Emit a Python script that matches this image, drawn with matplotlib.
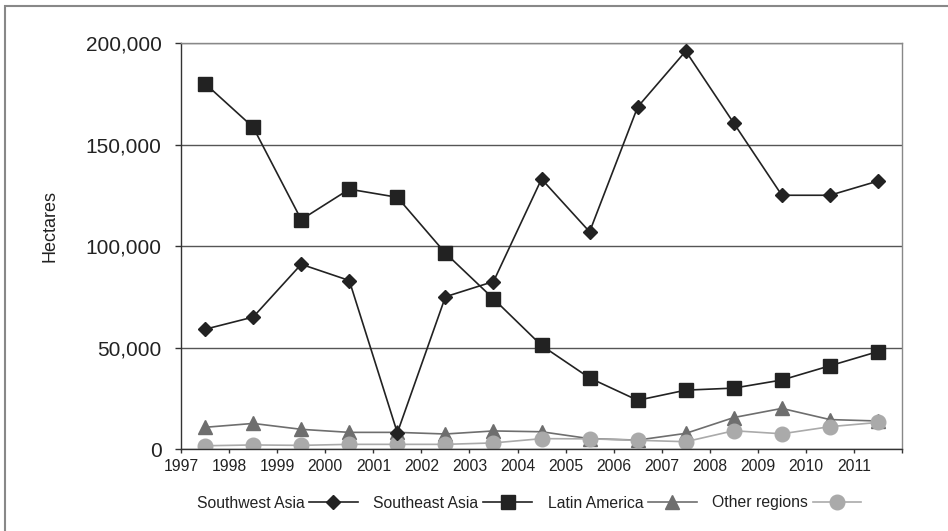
import matplotlib
matplotlib.use("Agg")
import matplotlib.pyplot as plt
from matplotlib.patches import Rectangle
from matplotlib.ticker import FuncFormatter

plt.rcParams['font.family'] = ['Liberation Sans', 'DejaVu Sans']

# datos (hectáreas), valores a mitad de cada año
anios = [1997.5, 1998.5, 1999.5, 2000.5, 2001.5, 2002.5, 2003.5, 2004.5,
         2005.5, 2006.5, 2007.5, 2008.5, 2009.5, 2010.5, 2011.5]
southwest_asia = [59000, 65000, 91000, 83000, 8000, 75000, 82500, 133000,
                  107000, 168500, 196000, 160500, 125000, 125000, 132000]
southeast_asia = [180000, 158500, 113000, 128000, 124000, 96500, 74000, 51000,
                  35000, 24000, 29000, 30000, 34000, 41000, 48000]
latin_america = [10700, 12600, 9700, 8200, 8200, 7400, 8900, 8500,
                 5100, 4400, 7700, 15500, 20000, 14500, 13800]
other_regions = [1600, 2000, 1800, 2300, 2300, 2300, 3000, 5100,
                 5000, 4300, 3600, 9000, 7500, 11000, 13100]
anios_ticks = list(range(1997, 2013))
etiquetas_x = [str(a) for a in range(1997, 2012)] + [""]

texto = '#222222'

fig = plt.figure(figsize=(9.48, 5.31), dpi=100)
ax = fig.add_axes([0.191, 0.1544, 0.7605, 0.7646])

ax.plot(anios, southwest_asia, color='#222222', marker='D', markersize=7.5,
        linewidth=1.2, label='Southwest Asia', zorder=4)
ax.plot(anios, southeast_asia, color='#222222', marker='s', markersize=10.5,
        linewidth=1.2, label='Southeast Asia', zorder=3)
ax.plot(anios, latin_america, color='#6e6e6e', marker='^', markersize=10.5,
        linewidth=1.2, label='Latin America', zorder=2)
ax.plot(anios, other_regions, color='#aaaaaa', marker='o', markersize=10.5,
        linewidth=1.2, label='Other regions', zorder=2)

ax.set_xlim(1997, 2012)
ax.set_ylim(0, 200000)
ax.set_yticks([0, 50000, 100000, 150000, 200000])
ax.yaxis.set_major_formatter(FuncFormatter(lambda v, p: f"{int(v):,}"))
ax.set_xticks(anios_ticks)
ax.set_xticklabels(etiquetas_x)

ax.grid(axis='y', color='#555555', linewidth=1.0)
ax.set_axisbelow(True)

for lado in ['top', 'right']:
    ax.spines[lado].set_color('#888888')
for lado in ['left', 'bottom']:
    ax.spines[lado].set_color('#333333')
for s in ax.spines.values():
    s.set_linewidth(1.0)

ax.tick_params(axis='y', length=4, width=1, color='#333333', labelsize=15,
               labelcolor=texto, pad=10)
ax.tick_params(axis='x', length=3, width=1, color='#333333', labelsize=11.3,
               labelcolor=texto, pad=4)

fig.text(50 / 948, 1 - 226 / 531, 'Hectares', rotation=90, fontsize=13,
         color=texto, ha='center', va='center')

fig.legend(loc='center', bbox_to_anchor=(529 / 948, 1 - 503 / 531), ncol=4,
           markerfirst=False, frameon=False, fontsize=11.3, handlelength=3.1,
           handletextpad=0.3, columnspacing=1.0, labelcolor=texto)

# marco exterior del gráfico
fig.patches.append(Rectangle((5.3 / 948, -0.02), 1.1, 1 - 5.7 / 531 + 0.02,
                             transform=fig.transFigure, fill=False,
                             edgecolor='#888888', linewidth=1.5))

fig.savefig('out.png', dpi=100)
